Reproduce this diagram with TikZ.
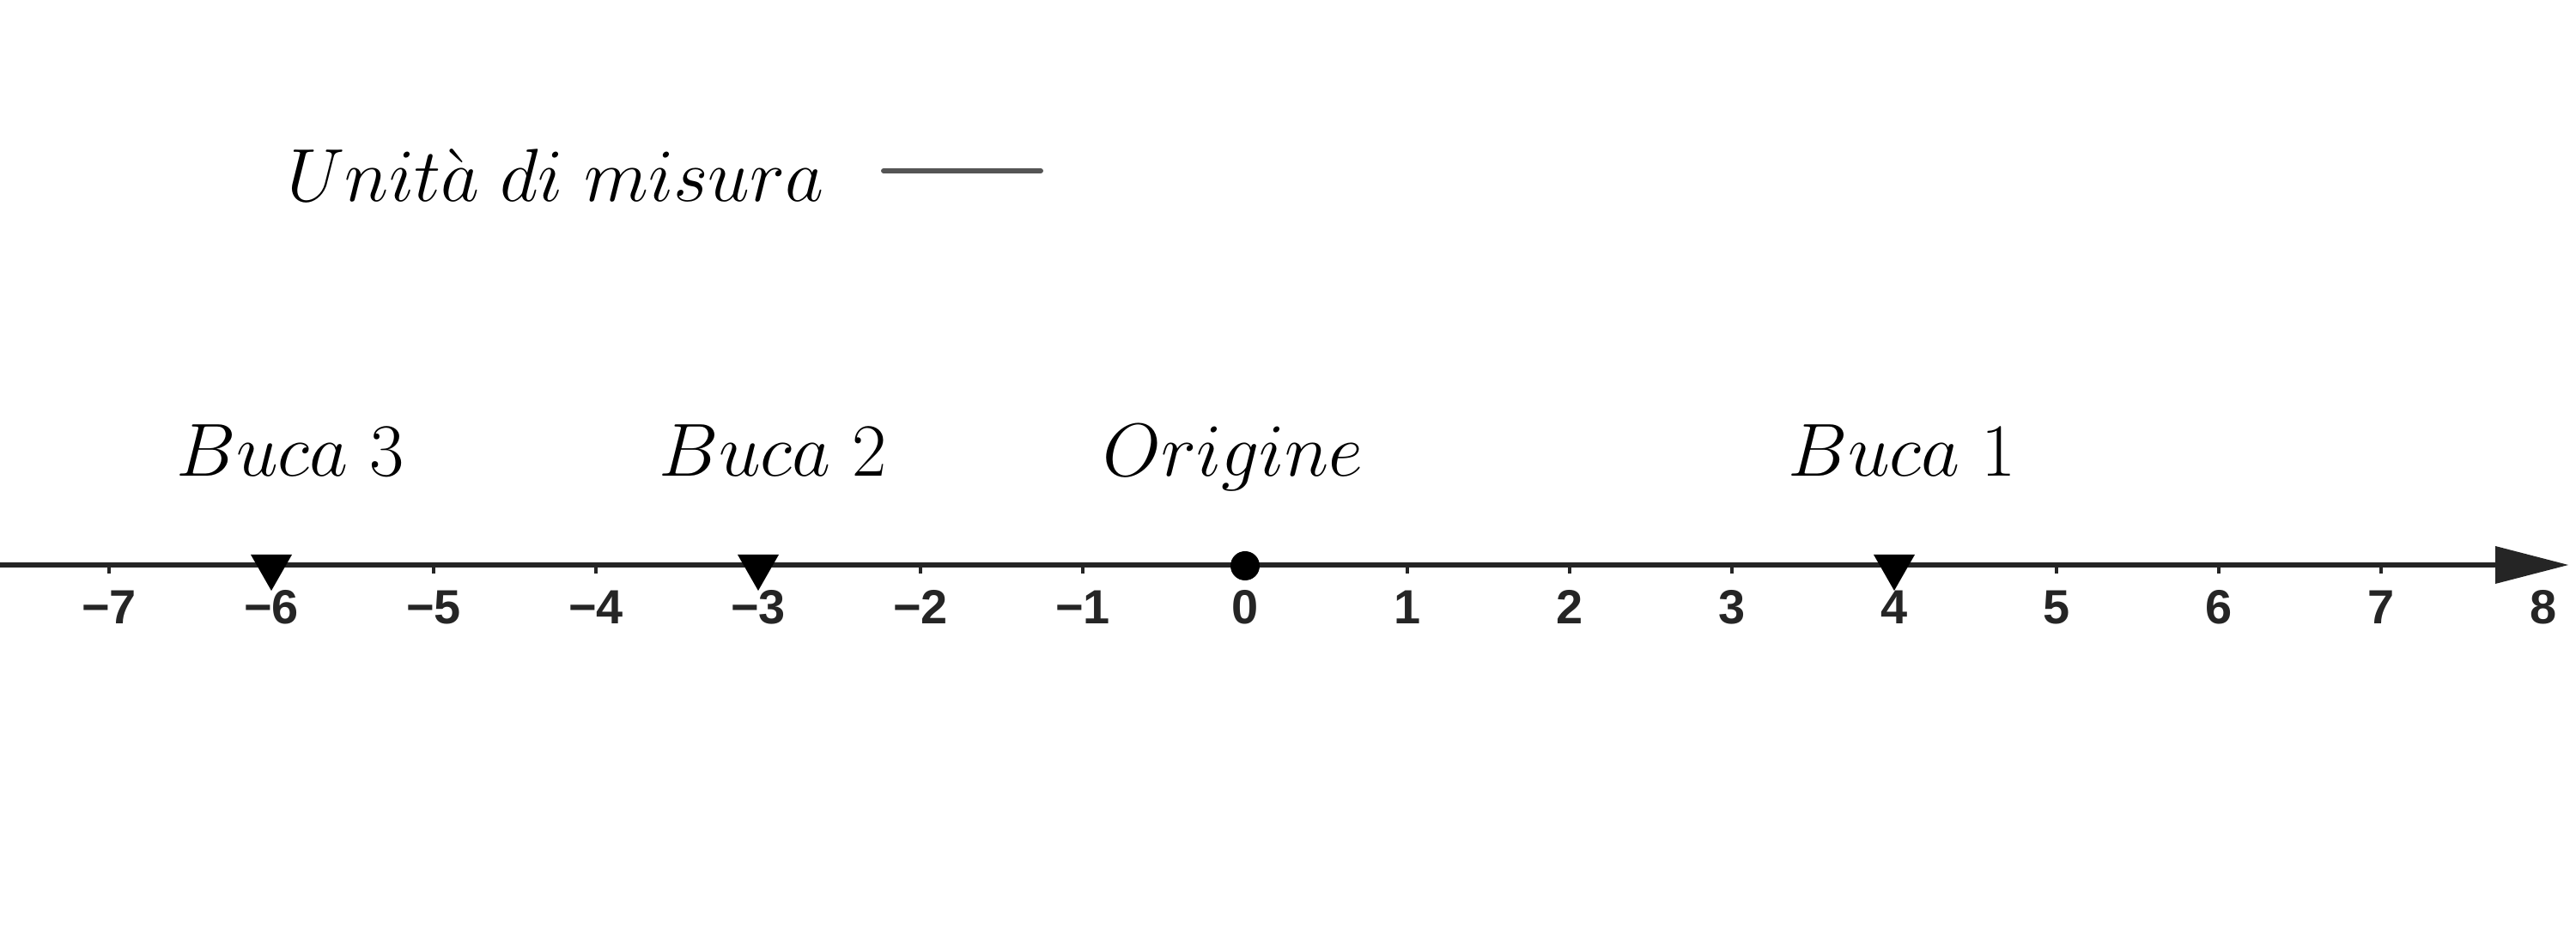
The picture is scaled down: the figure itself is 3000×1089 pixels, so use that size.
\documentclass[tikz,border=0pt]{standalone}
\usepackage{fontspec}
\newfontfamily\axisfont{Liberation Sans}
\newcommand{\ticklabelfont}{\axisfont\bfseries\fontsize{15.9}{18}\selectfont}
\definecolor{axiscol}{HTML}{252525}
\definecolor{unitcol}{HTML}{555555}
\begin{document}
\begin{tikzpicture}[x=0.01cm,y=-0.01cm]
\useasboundingbox (0,0) rectangle (3000,1089);
\tikzset{
  axisline/.style={draw=axiscol,line width=1.7pt},
  tickmark/.style={draw=axiscol,line width=0.9pt},
  ticklabel/.style={font=\ticklabelfont,text=axiscol,anchor=base,inner sep=0pt},
  itlabel/.style={font=\fontsize{24.88}{30}\selectfont,anchor=base west,inner sep=0pt},
  unitseg/.style={draw=unitcol,line width=1.7pt,line cap=round},
  marker/.style={fill=black},
}
% unit of measure
\node[itlabel] (unitlabel) at (334,235) {$Unit\grave{a}\;di\;misura$};
\coordinate (us1) at (1029,199);
\coordinate (us2) at (1212,199);
\draw[unitseg] (us1) -- (us2);
% axis
\coordinate (axstart) at (0,658);
\coordinate (axlineend) at (2910,658);
\coordinate (axend) at (2991,658);
\draw[axisline] (axstart) -- (axlineend);
\fill[axiscol] (2906,636) -- (axend) -- (2906,680) -- cycle;
\foreach \i in {-7,...,7} {
  \draw[tickmark] ({1450+189*\i},658) -- ({1450+189*\i},668);
}
\foreach \i/\t in {-7/−7,-6/−6,-5/−5,-4/−4,-3/−3,-2/−2,-1/−1,0/0,1/1,2/2,3/3,4/4,5/5,6/6,7/7,8/8} {
  \node[ticklabel] (lab\i) at ({1450+189*\i},727) {\t};
}
% markers
\foreach \k in {-6,-3,4} {
  \fill[marker] ({1450+189*\k-24},646) -- ({1450+189*\k+24},646) -- ({1450+189*\k},688) -- cycle;
}
\fill[marker] (1450,659) circle (17);
% labels
\node[itlabel] (buca3) at (205,555) {$Buca\;3$};
\node[itlabel] (buca2) at (767,555) {$Buca\;2$};
\node[itlabel] (origine) at (1284,555) {$Origine$};
\node[itlabel] (buca1) at (2082,555) {$Buca\;1$};
\end{tikzpicture}
\end{document}
